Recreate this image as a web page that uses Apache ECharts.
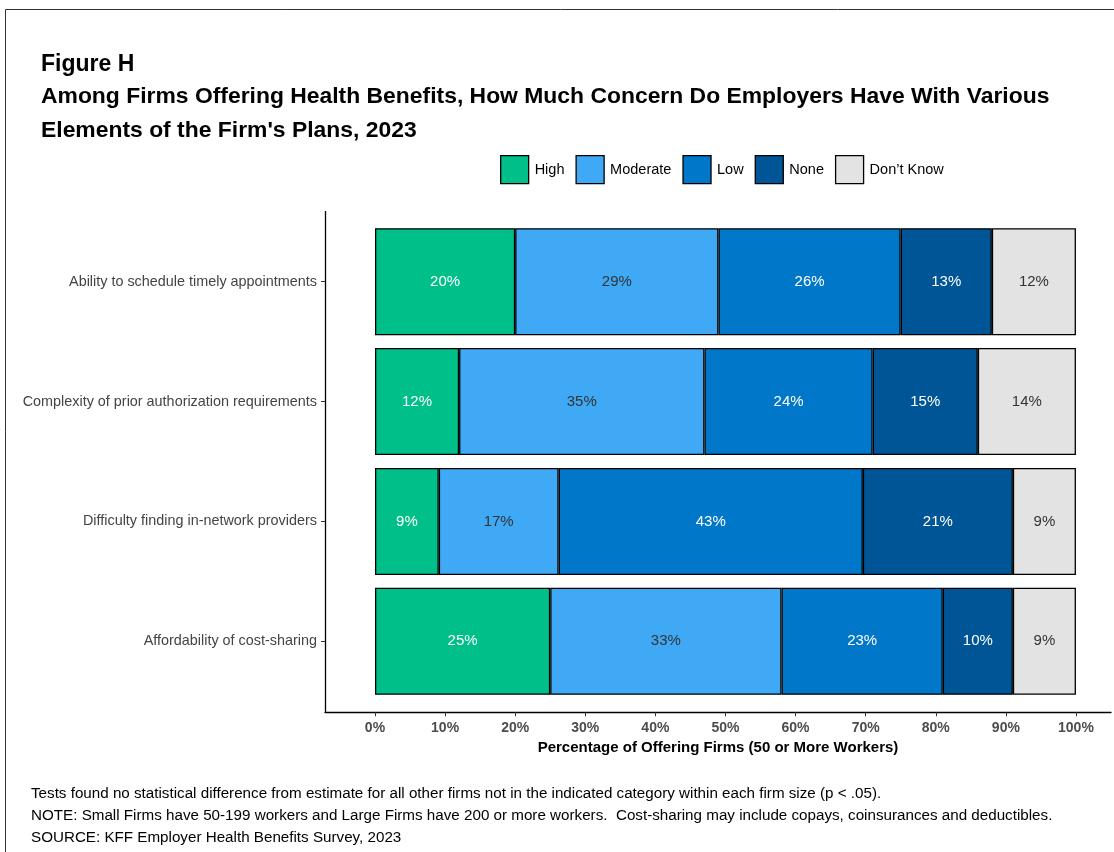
<!DOCTYPE html>
<html><head><meta charset="utf-8">
<script src="https://cdn.jsdelivr.net/npm/echarts@6/dist/echarts.min.js"></script>
<style>html,body{margin:0;padding:0;background:#fff}#c{width:1114px;height:852px}</style>
</head><body><div id="c"></div>
<script>
const categories = ["Ability to schedule timely appointments","Complexity of prior authorization requirements","Difficulty finding in-network providers","Affordability of cost-sharing"];
const seriesNames = ["High","Moderate","Low","None","Don\u2019t Know"];
const high = [20, 12, 9.1, 25];
const moderate = [29, 35, 17.1, 33];
const low = [26, 24, 43.4, 23];
const none = [13, 15, 21.4, 10];
const dontKnow = [12, 14, 9.0, 9];
const tickValues = [0,10,20,30,40,50,60,70,80,90,100];
const colors = ["#00bf88","#3fa9f5","#0077c8","#005596","#e3e3e3"];
const labelColors = ["#ffffff","#333333","#ffffff","#ffffff","#333333"];
const values = [high, moderate, low, none, dontKnow];

const font = "'Liberation Sans', Arial, sans-serif";
const chart = echarts.init(document.getElementById('c'));
const series = seriesNames.map((n,i)=>({
  name:n, type:'bar', stack:'all', barWidth:107,
  data: values[i],
  itemStyle:{color:colors[i], borderColor:'#000', borderWidth:1.3},
  label:{show:true, position:'inside', color:labelColors[i], fontSize:15, fontFamily:font,
    formatter:p=>Math.round(p.value)+'%'},
  emphasis:{disabled:true}
}));
chart.setOption({
  animation:false,
  textStyle:{fontFamily:font},
  graphic:[
    {type:'rect', shape:{x:5.5,y:9.5,width:1200,height:900}, style:{fill:null, stroke:'#333', lineWidth:1}},
    {type:'text', left:41, top:53, style:{text:'Figure H', font:'bold 23px '+font, fill:'#000'}},
    {type:'text', left:41, top:85.5, style:{text:'Among Firms Offering Health Benefits, How Much Concern Do Employers Have With Various', font:'bold 22.9px '+font, fill:'#000'}},
    {type:'text', left:41, top:119, style:{text:"Elements of the Firm's Plans, 2023", font:'bold 22.9px '+font, fill:'#000'}},
    {type:'line', shape:{x1:325.5,y1:211,x2:325.5,y2:712}, style:{stroke:'#000', lineWidth:1.3}},
    {type:'text', left:31, top:786, style:{text:'Tests found no statistical difference from estimate for all other firms not in the indicated category within each firm size (p < .05).', font:'15.2px '+font, fill:'#000'}},
    {type:'text', left:31, top:808, style:{text:'NOTE: Small Firms have 50-199 workers and Large Firms have 200 or more workers.  Cost-sharing may include copays, coinsurances and deductibles.', font:'15.2px '+font, fill:'#000'}},
    {type:'text', left:31, top:830.5, style:{text:'SOURCE: KFF Employer Health Benefits Survey, 2023', font:'15.2px '+font, fill:'#000'}}
  ],
  legend:{data:seriesNames, left:500, top:155, padding:0, itemWidth:28, itemHeight:28, itemGap:11,
    icon:'rect', textStyle:{fontSize:14.5, color:'#000', fontFamily:font, padding:[0,0,0,1]},
    itemStyle:{borderColor:'#000', borderWidth:1.3}},
  grid:{left:325, width:786, top:221.75, bottom:852-701.25, containLabel:false},
  xAxis:{type:'value', min:-7.13, max:105.0, offset:11,
    axisLine:{show:true, lineStyle:{color:'#000', width:1.3}},
    axisTick:{show:true, customValues:tickValues, length:4, lineStyle:{color:'#333'}},
    axisLabel:{customValues:tickValues, formatter:v=>v+'%', color:'#4d4d4d', fontWeight:'bold', fontSize:14, margin:9, fontFamily:font},
    splitLine:{show:false},
    name:'Percentage of Offering Firms (50 or More Workers)', nameLocation:'middle', nameGap:25,
    nameTextStyle:{fontWeight:'bold', fontSize:15, color:'#000', fontFamily:font, padding:[0,0,0,0]}
  },
  yAxis:{type:'category', data:categories, inverse:true,
    axisLine:{show:false, onZero:false},
    axisTick:{show:true, alignWithLabel:true, length:4, lineStyle:{color:'#333'}},
    axisLabel:{color:'#444', fontSize:14.4, margin:8, fontFamily:font, padding:[3,0,0,0]}
  },
  series:series
});
</script></body></html>
